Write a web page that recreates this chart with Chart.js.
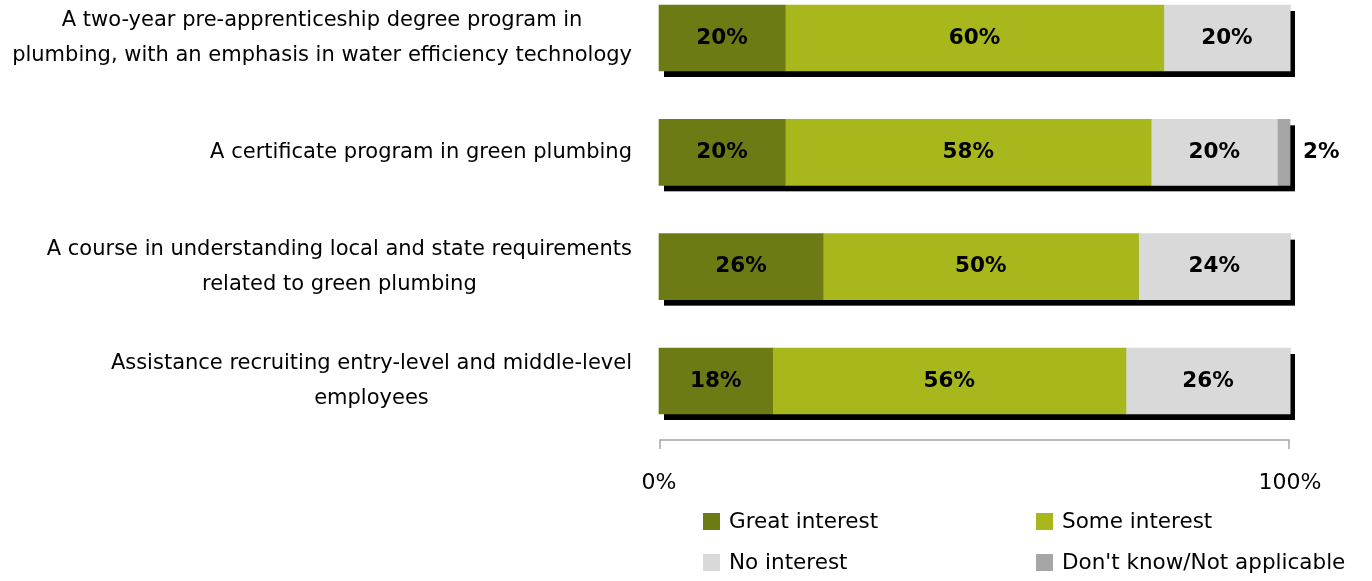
<!DOCTYPE html>
<html>
<head>
<meta charset="utf-8">
<script src="https://cdn.jsdelivr.net/npm/chart.js@4.4.1/dist/chart.umd.min.js"></script>
<style>
html,body{margin:0;padding:0;background:#fff;}
#wrap{position:relative;width:1372px;height:581px;}
</style>
</head>
<body>
<div id="wrap"><canvas id="c" width="1372" height="581"></canvas></div>
<script>
const categories = [
  ["A two-year pre-apprenticeship degree program in", "plumbing, with an emphasis in water efficiency technology"],
  ["A certificate program in green plumbing"],
  ["A course in understanding local and state requirements", "related to green plumbing"],
  ["Assistance recruiting entry-level and middle-level", "employees"]
];
const seriesNames = ["Great interest", "Some interest", "No interest", "Don't know/Not applicable"];
const greatInterest = [20, 20, 26, 18];
const someInterest = [60, 58, 50, 56];
const noInterest = [20, 20, 24, 26];
const dontKnow = [0, 2, 0, 0];
const xTickLabels = {0: "0%", 100: "100%"};

const colors = ["#6E7B14", "#A8B71C", "#D9D9D9", "#A6A6A6"];
const FONT = "'DejaVu Sans', sans-serif";
const FS = 21.5;
const CAT_FS = 21;

const seriesValues = [greatInterest, someInterest, noInterest, dontKnow];

const shadowPlugin = {
  id: 'shadow',
  beforeDatasetsDraw(chart) {
    const ctx = chart.ctx;
    const xs = chart.scales.x;
    const first = chart.getDatasetMeta(0);
    ctx.save();
    ctx.fillStyle = '#000';
    first.data.forEach((bar, i) => {
      let total = 0;
      seriesValues.forEach(s => total += s[i]);
      const left = xs.getPixelForValue(0);
      const right = xs.getPixelForValue(total);
      const top = bar.y - bar.height / 2;
      ctx.fillRect(left + 5, top + 6, right - left, bar.height);
    });
    ctx.restore();
  }
};

const labelsPlugin = {
  id: 'labels',
  afterDatasetsDraw(chart) {
    const ctx = chart.ctx;
    ctx.save();
    ctx.font = "bold " + FS + "px " + FONT;
    ctx.fillStyle = '#000';
    ctx.textBaseline = 'middle';
    chart.data.datasets.forEach((ds, di) => {
      const meta = chart.getDatasetMeta(di);
      meta.data.forEach((bar, i) => {
        const v = ds.data[i];
        if (!v) return;
        const txt = v + '%';
        if (v < 5) {
          ctx.textAlign = 'left';
          ctx.fillText(txt, bar.x + 13, bar.y);
        } else {
          ctx.textAlign = 'center';
          ctx.fillText(txt, (bar.x + bar.base) / 2, bar.y);
        }
      });
    });
    // category labels (left)
    const ys = chart.scales.y;
    ctx.font = CAT_FS + "px " + FONT;
    ctx.textAlign = 'center';
    categories.forEach((lines, i) => {
      const cy = ys.getPixelForValue(i);
      let maxW = 0;
      lines.forEach(l => { maxW = Math.max(maxW, ctx.measureText(l).width); });
      const cx = 632 - maxW / 2;
      const lh = 35;
      const y0 = cy - (lines.length - 1) * lh / 2;
      lines.forEach((l, k) => ctx.fillText(l, cx, y0 + k * lh));
    });
    // axis line
    const xs = chart.scales.x;
    const x0 = xs.getPixelForValue(0), x1 = xs.getPixelForValue(100);
    ctx.strokeStyle = '#A6A6A6';
    ctx.lineWidth = 1.5;
    ctx.beginPath();
    ctx.moveTo(x0 + 1, 449);
    ctx.lineTo(x0 + 1, 440);
    ctx.lineTo(x1 - 1, 440);
    ctx.lineTo(x1 - 1, 449);
    ctx.stroke();
    // legend
    const legendPos = [[703, 522], [1036, 522], [703, 563], [1036, 563]];
    ctx.font = FS + "px " + FONT;
    ctx.textAlign = 'left';
    chart.data.datasets.forEach((ds, di) => {
      const [lx, ly] = legendPos[di];
      ctx.fillStyle = ds.backgroundColor;
      ctx.fillRect(lx, ly - 9, 17, 17);
      ctx.fillStyle = '#000';
      ctx.fillText(ds.label, lx + 26, ly);
    });
    ctx.restore();
  }
};

new Chart(document.getElementById('c'), {
  type: 'bar',
  data: {
    labels: categories,
    datasets: seriesNames.map((n, i) => ({
      label: n,
      data: seriesValues[i],
      backgroundColor: colors[i],
      borderWidth: 0,
      barThickness: 66,
      clip: false
    }))
  },
  options: {
    indexAxis: 'y',
    responsive: false,
    animation: false,
    events: [],
    layout: { padding: { left: 659, right: 82, top: 38, bottom: 86 } },
    plugins: { legend: { display: false }, tooltip: { enabled: false } },
    scales: {
      x: {
        stacked: true,
        min: 0, max: 100,
        grid: { display: false, drawTicks: false },
        border: { display: false },
        afterFit: s => { s.height = 114; s.paddingLeft = 0; s.paddingRight = 0; },
        ticks: {
          stepSize: 100,
          padding: 89,
          maxRotation: 0,
          minRotation: 0,
          autoSkip: false,
          color: '#000',
          font: { family: FONT, size: 22 },
          callback: v => xTickLabels[v] !== undefined ? xTickLabels[v] : ''
        }
      },
      y: {
        stacked: true,
        display: false,
        offset: false
      }
    }
  },
  plugins: [shadowPlugin, labelsPlugin]
});
</script>
</body>
</html>
